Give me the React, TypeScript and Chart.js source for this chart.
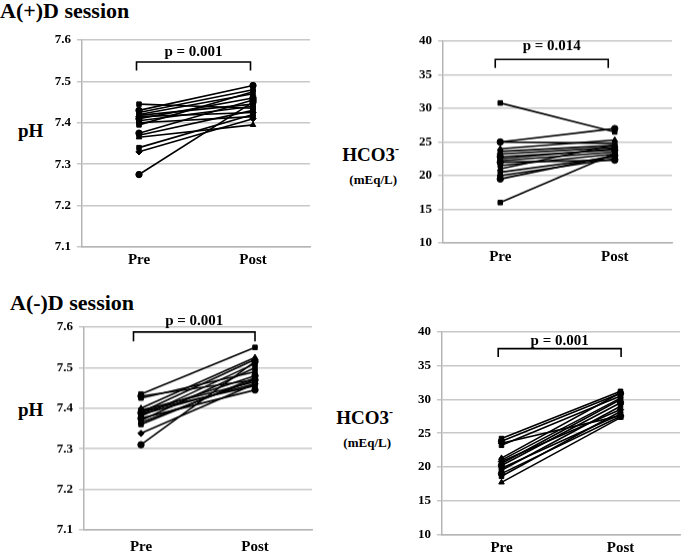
import React, { useEffect, useRef } from 'react';
import { Chart, registerables } from 'chart.js';

Chart.register(...registerables);

const categories = ['Pre', 'Post'];
const sessionTitles = ['A(+)D session', 'A(-)D session'];
const pValues = ['p = 0.001', 'p = 0.014', 'p = 0.001', 'p = 0.001'];

// A(+)D session, pH
const phPlusPre = [7.445, 7.43, 7.425, 7.42, 7.418, 7.415, 7.41, 7.405, 7.4, 7.375, 7.37, 7.365, 7.34, 7.33, 7.275, 7.395];
const phPlusPost = [7.435, 7.49, 7.48, 7.47, 7.445, 7.425, 7.46, 7.44, 7.415, 7.455, 7.43, 7.395, 7.42, 7.41, 7.45, 7.475];
// A(+)D session, HCO3-
const hco3PlusPre = [30.8, 25.0, 25.0, 24.0, 23.6, 23.2, 22.8, 22.5, 22.2, 22.0, 21.5, 21.0, 20.5, 20.0, 19.5, 16.0];
const hco3PlusPost = [26.5, 27.0, 24.8, 25.3, 24.5, 24.2, 23.8, 24.0, 23.5, 22.3, 23.2, 24.6, 22.8, 22.5, 23.0, 23.3];
// A(-)D session, pH
const phMinusPre = [7.435, 7.43, 7.425, 7.4, 7.395, 7.39, 7.388, 7.385, 7.38, 7.375, 7.37, 7.365, 7.36, 7.338, 7.31, 7.392];
const phMinusPost = [7.55, 7.47, 7.49, 7.525, 7.465, 7.52, 7.48, 7.46, 7.51, 7.445, 7.5, 7.47, 7.475, 7.46, 7.515, 7.455];
// A(-)D session, HCO3-
const hco3MinusPre = [24.2, 23.8, 23.2, 21.3, 21.0, 20.8, 20.2, 19.8, 19.5, 19.0, 18.6, 17.7, 20.5, 23.5];
const hco3MinusPost = [31.2, 30.9, 30.5, 31.0, 30.2, 28.5, 29.5, 27.8, 29.0, 27.5, 28.2, 27.3, 30.0, 27.6];

const markerStyles = ['rect', 'circle', 'rect', 'triangle', 'rect', 'rectRot', 'circle', 'rect'];

const FONT = '"Liberation Serif", "Times New Roman", serif';

const bracketPlugin = {
  id: 'bracket',
  afterDraw(chart: any, _args: any, opts: any) {
    const { ctx } = chart;
    const x = chart.scales.x;
    const y = chart.scales.y;
    const x1 = x.getPixelForValue(0) + opts.dxL;
    const x2 = x.getPixelForValue(1) + opts.dxR;
    const yy = y.getPixelForValue(opts.value);
    ctx.save();
    ctx.strokeStyle = '#000';
    ctx.lineWidth = 1.6;
    ctx.beginPath();
    ctx.moveTo(x1, yy + opts.drop);
    ctx.lineTo(x1, yy);
    ctx.lineTo(x2, yy);
    ctx.lineTo(x2, yy + opts.drop);
    ctx.stroke();
    ctx.font = `bold 15px ${FONT}`;
    ctx.fillStyle = '#000';
    ctx.textAlign = 'center';
    ctx.textBaseline = 'alphabetic';
    ctx.fillText(opts.text, (x1 + x2) / 2, yy - opts.gap);
    ctx.restore();
  },
};

type Area = { l: number; t: number; r: number; b: number };

function Panel(props: {
  pre: number[];
  post: number[];
  min: number;
  max: number;
  step: number;
  decimals: number;
  area: Area;
  yW: number;
  xH: number;
  xPad: number;
  padTop: number;
  padRight: number;
  bracket: any;
}) {
  const ref = useRef<HTMLCanvasElement>(null);
  const { area, yW, xH, padTop, padRight } = props;
  const left = area.l - yW;
  const top = area.t - padTop;
  const width = area.r + padRight - left;
  const height = area.b + xH - top;

  useEffect(() => {
    if (!ref.current) return;
    const datasets = props.pre.map((v, i) => ({
      data: [v, props.post[i]],
      borderColor: '#000',
      backgroundColor: '#000',
      borderWidth: 1.6,
      pointRadius: 3.2,
      pointStyle: markerStyles[i % markerStyles.length],
      pointBorderWidth: 1,
      tension: 0,
    }));
    const chart = new Chart(ref.current, {
      type: 'line',
      data: { labels: categories, datasets },
      options: {
        responsive: false,
        animation: false,
        layout: { padding: { top: padTop, right: padRight, left: 0, bottom: 0 } },
        plugins: {
          legend: { display: false },
          tooltip: { enabled: false },
          bracket: props.bracket,
        } as any,
        scales: {
          x: {
            type: 'category',
            offset: true,
            grid: { display: false, drawTicks: false },
            border: { display: true, color: '#b5b5b5', width: 1.5 },
            ticks: { color: '#000', font: { family: FONT, size: 15, weight: 'bold' }, padding: props.xPad },
            afterFit: (s: any) => {
              s.height = xH;
            },
          },
          y: {
            min: props.min,
            max: props.max,
            ticks: {
              stepSize: props.step,
              color: '#000',
              font: { family: FONT, size: 13, weight: 'bold' },
              padding: 6,
              callback: (v: any) => Number(v).toFixed(props.decimals),
            },
            grid: { color: '#c8c8c8', lineWidth: 1.5, tickLength: 5 },
            border: { display: true, color: '#b5b5b5', width: 1.5 },
            afterFit: (s: any) => {
              s.width = yW;
            },
          },
        },
      },
      plugins: [bracketPlugin],
    } as any);
    return () => chart.destroy();
  }, []);

  return (
    <canvas
      ref={ref}
      width={width}
      height={height}
      style={{ position: 'absolute', left, top, width, height }}
    />
  );
}

function Txt(props: { x: number; base: number; size: number; children: any }) {
  const { x, base, size } = props;
  return (
    <div
      style={{
        position: 'absolute',
        left: x,
        top: base - 0.8375 * size,
        fontFamily: FONT,
        fontSize: size,
        fontWeight: 'bold',
        lineHeight: `${size}px`,
        whiteSpace: 'nowrap',
        color: '#000',
      }}
    >
      {props.children}
    </div>
  );
}

function HcoTitle(props: { right: number; base: number }) {
  const fs = 19;
  return (
    <div
      style={{
        position: 'absolute',
        left: props.right - 120,
        width: 120,
        top: props.base - 0.8375 * fs,
        textAlign: 'right',
        fontFamily: FONT,
        fontWeight: 'bold',
        color: '#000',
        whiteSpace: 'nowrap',
      }}
    >
      <div style={{ fontSize: fs, lineHeight: `${fs}px` }}>
        HCO3<span style={{ fontSize: 12, position: 'relative', top: -8 }}>-</span>
      </div>
      <div style={{ fontSize: 13, lineHeight: '13px', marginTop: 6, paddingRight: 2 }}>(mEq/L)</div>
    </div>
  );
}

export default function App() {
  return (
    <div style={{ position: 'absolute', left: 0, top: 0, width: 685, height: 555, background: '#fff', overflow: 'hidden' }}>
      <Txt x={0} base={18.5} size={22}>{sessionTitles[0]}</Txt>
      <Txt x={10} base={310.5} size={22}>{sessionTitles[1]}</Txt>
      <Txt x={18} base={137} size={19}>pH</Txt>
      <Txt x={18} base={416} size={19}>pH</Txt>
      <HcoTitle right={399} base={161} />
      <HcoTitle right={393} base={424} />
      <Panel
        pre={phPlusPre}
        post={phPlusPost}
        min={7.1}
        max={7.6}
        step={0.1}
        decimals={1}
        area={{ l: 82, t: 39.5, r: 312, b: 247 }}
        yW={42}
        xH={24}
        xPad={4}
        padTop={16}
        padRight={3}
        bracket={{ value: 7.547, drop: 8.5, gap: 6, dxL: -2.5, dxR: -2.5, text: pValues[0] }}
      />
      <Panel
        pre={hco3PlusPre}
        post={hco3PlusPost}
        min={10}
        max={40}
        step={5}
        decimals={0}
        area={{ l: 443, t: 41, r: 672, b: 242.7 }}
        yW={43}
        xH={26}
        xPad={5}
        padTop={16}
        padRight={8}
        bracket={{ value: 37.28, drop: 8.5, gap: 9, dxL: -5, dxR: -6.5, text: pValues[1] }}
      />
      <Panel
        pre={phMinusPre}
        post={phMinusPost}
        min={7.1}
        max={7.6}
        step={0.1}
        decimals={1}
        area={{ l: 84, t: 327, r: 314, b: 529.5 }}
        yW={42}
        xH={25}
        xPad={8}
        padTop={14}
        padRight={3}
        bracket={{ value: 7.588, drop: 9.5, gap: 7, dxL: -7.5, dxR: 0, text: pValues[2] }}
      />
      <Panel
        pre={hco3MinusPre}
        post={hco3MinusPost}
        min={10}
        max={40}
        step={5}
        decimals={0}
        area={{ l: 441.8, t: 331.7, r: 685, b: 534.3 }}
        yW={43}
        xH={20.7}
        xPad={5}
        padTop={14}
        padRight={0}
        bracket={{ value: 37.54, drop: 8.4, gap: 4, dxL: -3.3, dxR: 0.6, text: pValues[3] }}
      />
    </div>
  );
}
